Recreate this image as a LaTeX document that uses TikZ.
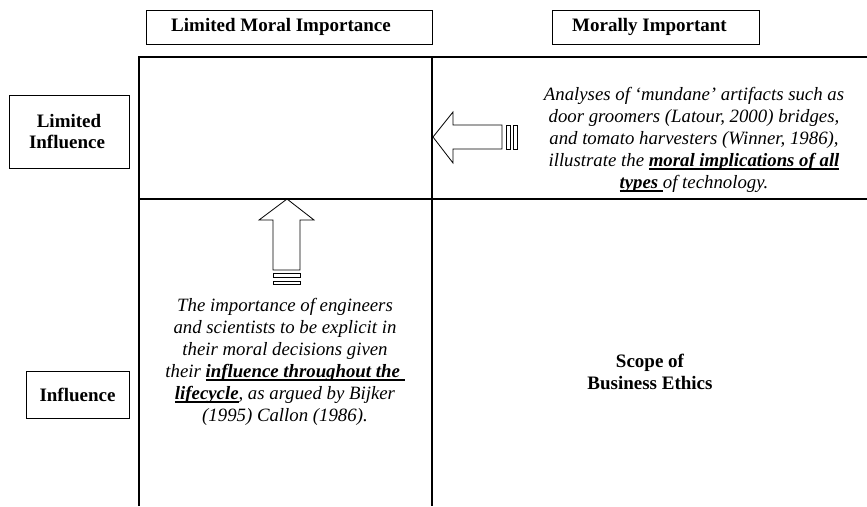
\documentclass[tikz,border=0pt]{standalone}
\usepackage{fontspec}
\setmainfont{Liberation Serif}
\newcommand{\markline}[1]{\setbox0=\hbox{#1}\rlap{\rule[-3.2pt]{\wd0}{1.5pt}}\box0}
\tikzset{
  labelbox/.style={draw, line width=0.8pt, align=center, font=\bfseries\fontsize{19}{21.5}\selectfont},
  gridline/.style={line width=2pt},
  blockarrow/.style={draw, line width=0.8pt},
  note/.style={align=center, font=\itshape\fontsize{18.8}{22}\selectfont}
}
\begin{document}
\begin{tikzpicture}[x=1pt, y=-1pt]
    \useasboundingbox (0,0) rectangle (867,506);

    % labels
    \node[labelbox, minimum width=286pt, minimum height=34pt] (moralLow) at (289,27) {Limited Moral Importance\hspace*{16pt}};
    \node[labelbox, minimum width=207pt, minimum height=34pt] (moralHigh) at (655.5,27) {Morally Important\hspace*{12pt}};
    \node[labelbox, minimum width=120pt, minimum height=73pt] (inflLow) at (69,131.5) {Limited\\Influence\hspace*{4pt}};
    \node[labelbox, minimum width=103pt, minimum height=47pt] (inflHigh) at (77.5,394.5) {Influence};

    % grid
    \draw[gridline] (139,506) -- (139,57) -- (867,57);
    \draw[gridline] (432,57) -- (432,506);
    \draw[gridline] (139,199) -- (867,199);

    % left arrow
    \draw[blockarrow] (433,137) -- (453,112) -- (453,125) -- (502,125)
      -- (502,149) -- (453,149) -- (453,163) -- cycle;
    \foreach \x in {506,513}
      \draw[blockarrow] (\x,125) rectangle (\x+4.5,149);

    % up arrow
    \draw[blockarrow] (287,199) -- (314,220) -- (300,220) -- (300,270)
      -- (273,270) -- (273,220) -- (259,220) -- cycle;
    \foreach \y in {273.5,281}
      \draw[blockarrow] (273,\y) rectangle (300,\y+3.5);

    % texts
    \node[note] (mundane) at (694,140) {Analyses of `mundane' artifacts such as\\
      door groomers (Latour, 2000) bridges,\\
      and tomato harvesters (Winner, 1986),\\
      illustrate the \markline{\textbf{moral implications of all}}\\
      \markline{\textbf{types}\ }of technology.};
    \node[note] (lifecycle) at (285,362) {The importance of engineers\\
      and scientists to be explicit in\\
      their moral decisions given\\
      their \markline{\textbf{influence throughout the}\ }\\
      \markline{\textbf{lifecycle}}, as argued by Bijker\\
      (1995) Callon (1986).};
    \node[labelbox, draw=none] (scope) at (650,372) {Scope of\\Business Ethics};
  \end{tikzpicture}
\end{document}
